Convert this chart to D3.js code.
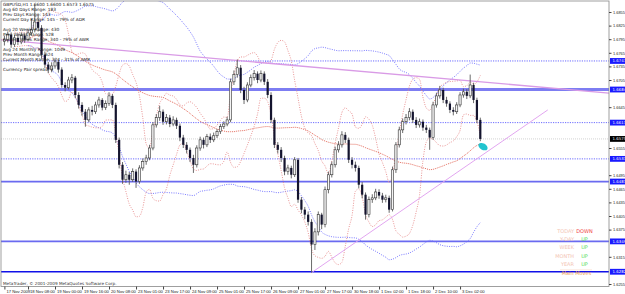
<!DOCTYPE html>
<html>
<head>
<meta charset="utf-8">
<script src="https://cdn.jsdelivr.net/npm/d3@7"></script>
<style>
  body { margin: 0; background: #fff; }
  svg { display: block; font-family: "DejaVu Sans", sans-serif; }
</style>
</head>
<body>
<div id="chart"></div>
<script>

// GBPUSD H1 candles, open = previous close
const firstOpen = 1.6790;
const closes = [
  1.6794, 1.6805, 1.6783, 1.6798, 1.6789, 1.6803, 1.6794, 1.6809, 1.6816, 1.6833,
  1.6820, 1.6761, 1.6739, 1.6728, 1.6736, 1.6745, 1.6728, 1.6694, 1.6688, 1.6705,
  1.6710, 1.6672, 1.6650, 1.6635, 1.6617, 1.6639, 1.6635, 1.6650, 1.6661, 1.6644,
  1.6653, 1.6670, 1.6650, 1.6573, 1.6518, 1.6485, 1.6496, 1.6485, 1.6503, 1.6481,
  1.6511, 1.6525, 1.6533, 1.6555, 1.6606, 1.6622, 1.6635, 1.6613, 1.6622, 1.6608,
  1.6617, 1.6604, 1.6578, 1.6562, 1.6551, 1.6533, 1.6518, 1.6555, 1.6573, 1.6562,
  1.6580, 1.6573, 1.6582, 1.6591, 1.6602, 1.6608, 1.6617, 1.6701, 1.6717, 1.6732,
  1.6683, 1.6661, 1.6694, 1.6710, 1.6719, 1.6705, 1.6719, 1.6701, 1.6672, 1.6617,
  1.6562, 1.6551, 1.6533, 1.6503, 1.6511, 1.6496, 1.6529, 1.6441, 1.6419, 1.6408,
  1.6392, 1.6342, 1.6370, 1.6408, 1.6386, 1.6463, 1.6496, 1.6518, 1.6551, 1.6562,
  1.6584, 1.6573, 1.6529, 1.6518, 1.6511, 1.6474, 1.6452, 1.6408, 1.6441, 1.6445,
  1.6458, 1.6450, 1.6441, 1.6445, 1.6419, 1.6507, 1.6562, 1.6595, 1.6613, 1.6622,
  1.6635, 1.6617, 1.6606, 1.6613, 1.6600, 1.6595, 1.6578, 1.6650, 1.6670, 1.6683,
  1.6661, 1.6653, 1.6639, 1.6635, 1.6650, 1.6672, 1.6679, 1.6670, 1.6694, 1.6661,
  1.6617, 1.6575
];
const highs = [
  1.6803, 1.6812, 1.6810, 1.6804, 1.6806, 1.6810, 1.6808, 1.6817, 1.6840, 1.6871,
  1.6848, 1.6826, 1.6768, 1.6745, 1.6744, 1.6752, 1.6750, 1.6733, 1.6700, 1.6712,
  1.6718, 1.6714, 1.6678, 1.6656, 1.6641, 1.6645, 1.6648, 1.6657, 1.6668, 1.6665,
  1.6660, 1.6678, 1.6674, 1.6655, 1.6578, 1.6524, 1.6505, 1.6502, 1.6510, 1.6508,
  1.6517, 1.6532, 1.6540, 1.6562, 1.6612, 1.6630, 1.6648, 1.6640, 1.6630, 1.6628,
  1.6625, 1.6622, 1.6609, 1.6584, 1.6568, 1.6556, 1.6540, 1.6561, 1.6580, 1.6578,
  1.6586, 1.6587, 1.6589, 1.6597, 1.6608, 1.6614, 1.6624, 1.6708, 1.6726, 1.6750,
  1.6738, 1.6690, 1.6700, 1.6717, 1.6727, 1.6724, 1.6726, 1.6724, 1.6707, 1.6678,
  1.6622, 1.6568, 1.6557, 1.6538, 1.6518, 1.6516, 1.6535, 1.6533, 1.6447, 1.6425,
  1.6415, 1.6398, 1.6378, 1.6415, 1.6412, 1.6470, 1.6503, 1.6525, 1.6558, 1.6570,
  1.6592, 1.6590, 1.6578, 1.6535, 1.6525, 1.6516, 1.6480, 1.6457, 1.6448, 1.6453,
  1.6465, 1.6464, 1.6456, 1.6452, 1.6450, 1.6514, 1.6568, 1.6602, 1.6620, 1.6630,
  1.6643, 1.6640, 1.6623, 1.6620, 1.6618, 1.6606, 1.6600, 1.6657, 1.6677, 1.6692,
  1.6688, 1.6668, 1.6658, 1.6645, 1.6656, 1.6678, 1.6686, 1.6685, 1.6717, 1.6699,
  1.6666, 1.6622
];
const lows = [
  1.6781, 1.6788, 1.6776, 1.6778, 1.6782, 1.6784, 1.6787, 1.6790, 1.6803, 1.6810,
  1.6812, 1.6752, 1.6731, 1.6720, 1.6722, 1.6730, 1.6721, 1.6688, 1.6680, 1.6684,
  1.6698, 1.6665, 1.6642, 1.6626, 1.6602, 1.6612, 1.6627, 1.6630, 1.6644, 1.6638,
  1.6639, 1.6648, 1.6643, 1.6566, 1.6510, 1.6476, 1.6478, 1.6474, 1.6480, 1.6467,
  1.6476, 1.6505, 1.6518, 1.6528, 1.6550, 1.6600, 1.6615, 1.6606, 1.6607, 1.6601,
  1.6603, 1.6597, 1.6570, 1.6555, 1.6543, 1.6524, 1.6500, 1.6512, 1.6549, 1.6554,
  1.6557, 1.6566, 1.6568, 1.6577, 1.6586, 1.6597, 1.6603, 1.6612, 1.6694, 1.6710,
  1.6676, 1.6652, 1.6656, 1.6689, 1.6704, 1.6698, 1.6700, 1.6694, 1.6665, 1.6610,
  1.6555, 1.6543, 1.6524, 1.6495, 1.6496, 1.6488, 1.6491, 1.6434, 1.6411, 1.6398,
  1.6384, 1.6280, 1.6330, 1.6362, 1.6376, 1.6380, 1.6455, 1.6490, 1.6512, 1.6545,
  1.6556, 1.6566, 1.6522, 1.6510, 1.6503, 1.6466, 1.6444, 1.6397, 1.6402, 1.6434,
  1.6440, 1.6443, 1.6434, 1.6435, 1.6412, 1.6415, 1.6500, 1.6556, 1.6588, 1.6607,
  1.6616, 1.6610, 1.6599, 1.6600, 1.6593, 1.6588, 1.6551, 1.6573, 1.6644, 1.6664,
  1.6654, 1.6646, 1.6632, 1.6627, 1.6630, 1.6645, 1.6666, 1.6663, 1.6665, 1.6654,
  1.6610, 1.6570
];

// axis labels
const yTicks = [1.6855, 1.6825, 1.6795, 1.6765, 1.6735, 1.6705, 1.6675, 1.6645, 1.6615,
  1.6585, 1.6555, 1.6525, 1.6495, 1.6465, 1.6435, 1.6405, 1.6375, 1.6345, 1.6315, 1.6285, 1.6255];
const xTickIdx = [0, 7, 15, 23, 31, 39, 47, 55, 63, 71, 79, 87, 95, 103, 111, 119, 127, 135];
const xLabels = ["17 Nov 2009", "18 Nov 08:00", "19 Nov 00:00", "19 Nov 16:00", "20 Nov 08:00",
  "23 Nov 01:00", "23 Nov 17:00", "24 Nov 09:00", "25 Nov 01:00", "25 Nov 17:00", "26 Nov 09:00",
  "27 Nov 01:00", "27 Nov 17:00", "30 Nov 18:00", "1 Dec 02:00", "1 Dec 18:00", "2 Dec 10:00", "3 Dec 02:00"];

// horizontal levels drawn on the chart
const levelPrices = [1.6747, 1.6684, 1.6611, 1.6531, 1.6481, 1.6349, 1.6282];
const levelKinds  = ["dot", "thick", "dot", "dot", "solid", "solid", "base"];
const lastPrice = 1.6575;

// trend lines: bar index and price of two anchors
const trendDownIdx = [0, 141], trendDownPrice = [1.6793, 1.6701];
const trendUpIdx = [91, 161], trendUpPrice = [1.6280, 1.6639];
const markerIdx = 141.8, markerPrice = 1.6558;

const infoLines = [
  "GBPUSD,H1  1.6600 1.6600 1.6573 1.6575",
  "Avg 60 Days Range: 183",
  "Prev Days Range: 143",
  "Current Day Range: 145 - 79% of ADR",
  "",
  "Avg 20 Weeks Range: 430",
  "Prev Weeks Range: 528",
  "Current Week Range: 340 - 79% of AWR",
  "",
  "Avg 24 Monthly Range: 1049",
  "Prev Month Range: 624",
  "Current Month Range: 324 - 31% of AMR",
  "",
  "Currency Pair spread: 3"
];
const moveNames = ["TODAY", "Y-DAY", "WEEK", "MONTH", "YEAR"];
const moveDirs  = ["DOWN", "UP", "UP", "UP", "UP"];

// ---------------------------------------------------------------

const width = 625, height = 294;
const plot = { left: 1, top: 1, right: 609, bottom: 286.5 };

const svg = d3.select("#chart").append("svg")
  .attr("width", width)
  .attr("height", height);

svg.append("rect").attr("width", width).attr("height", height).attr("fill", "#fff");

svg.append("clipPath").attr("id", "clip")
  .append("rect")
  .attr("x", plot.left).attr("y", plot.top)
  .attr("width", plot.right - plot.left).attr("height", plot.bottom - plot.top);

const x = d3.scaleLinear().domain([0, 141]).range([4.4, 480.3]);
const y = d3.scaleLinear().domain([1.6855, 1.6255]).range([12, 284]);

const g = svg.append("g").attr("clip-path", "url(#clip)");

// level lines
const levelStyle = {
  dot:   { color: "#5b5bff", w: 0.9, dash: "1.2,1.2" },
  thick: { color: "#7d7df2", w: 3,   dash: null },
  solid: { color: "#6a6af0", w: 1.8, dash: null },
  base:  { color: "#1010e8", w: 1.4, dash: null }
};
levelPrices.forEach((p, i) => {
  const s = levelStyle[levelKinds[i]];
  g.append("line")
    .attr("x1", plot.left).attr("x2", plot.right)
    .attr("y1", y(p)).attr("y2", y(p))
    .attr("stroke", s.color).attr("stroke-width", s.w)
    .attr("stroke-dasharray", s.dash);
});
g.append("line")
  .attr("x1", plot.left).attr("x2", plot.right)
  .attr("y1", y(lastPrice)).attr("y2", y(lastPrice))
  .attr("stroke", "#c8c8c8").attr("stroke-width", 0.8)
  .attr("stroke-dasharray", "1,1");

// bollinger style bands computed from the closes
function bands(period, k, minLen) {
  const out = [];
  closes.forEach((c, i) => {
    const win = closes.slice(Math.max(0, i - period + 1), i + 1);
    if (win.length < minLen) return;
    const m = d3.mean(win);
    const sd = Math.sqrt(d3.mean(win, v => (v - m) * (v - m)));
    out.push({ i: i, mid: m, up: m + k * sd, lo: m - k * sd });
  });
  return out;
}
const fast = bands(10, 2, 4);
const slow = bands(48, 2, 8);

function drawLine(data, key, color, dash, w) {
  g.append("path")
    .datum(data)
    .attr("fill", "none")
    .attr("stroke", color)
    .attr("stroke-width", w)
    .attr("stroke-dasharray", dash)
    .attr("d", d3.line().curve(d3.curveMonotoneX).x(d => x(d.i)).y(d => y(d[key])));
}
drawLine(slow, "up", "#6b6bff", "1,1.3", 0.9);
drawLine(slow, "lo", "#6b6bff", "1,1.3", 0.9);
drawLine(slow, "mid", "#e05a4a", "1,1", 0.9);
drawLine(fast, "up", "#e68a8a", "1,1.4", 0.9);
drawLine(fast, "lo", "#e68a8a", "1,1.4", 0.9);

// trend lines
const dSlope = (trendDownPrice[1] - trendDownPrice[0]) / (trendDownIdx[1] - trendDownIdx[0]);
const iL = x.invert(plot.left), iR = x.invert(plot.right);
g.append("line")
  .attr("x1", x(iL)).attr("y1", y(trendDownPrice[0] + dSlope * (iL - trendDownIdx[0])))
  .attr("x2", x(iR)).attr("y2", y(trendDownPrice[0] + dSlope * (iR - trendDownIdx[0])))
  .attr("stroke", "#d99be6").attr("stroke-width", 1.3);
g.append("line")
  .attr("x1", x(trendUpIdx[0])).attr("y1", y(trendUpPrice[0]))
  .attr("x2", x(trendUpIdx[1])).attr("y2", y(trendUpPrice[1]))
  .attr("stroke", "#e2a6f0").attr("stroke-width", 1);

// candles
const candles = closes.map((c, i) => ({
  i: i, o: i === 0 ? firstOpen : closes[i - 1], h: highs[i], l: lows[i], c: c
}));
g.selectAll(".wick").data(candles).enter().append("line")
  .attr("class", "wick")
  .attr("x1", d => x(d.i)).attr("x2", d => x(d.i))
  .attr("y1", d => y(d.h)).attr("y2", d => y(d.l))
  .attr("stroke", "#5a5a5a").attr("stroke-width", 0.9);
g.selectAll(".body").data(candles).enter().append("rect")
  .attr("class", "body")
  .attr("x", d => x(d.i) - 1.1)
  .attr("width", 2.2)
  .attr("y", d => y(Math.max(d.o, d.c)))
  .attr("height", d => Math.max(0.8, Math.abs(y(d.o) - y(d.c))))
  .attr("fill", d => d.c >= d.o ? "#f4f4f4" : "#14142e")
  .attr("stroke", d => d.c >= d.o ? "#333" : "none")
  .attr("stroke-width", 0.6);

// marker ellipse
g.append("ellipse")
  .attr("transform", `translate(${x(markerIdx)},${y(markerPrice)}) rotate(30)`)
  .attr("rx", 5).attr("ry", 3.2)
  .attr("fill", "#22c4cf");

// info text top left
svg.append("g").selectAll("text").data(infoLines).enter().append("text")
  .attr("x", 3).attr("y", (d, i) => 5.5 + i * 5)
  .attr("font-size", "4.3px").attr("fill", "#222")
  .text(d => d);

// direction table
const tbl = svg.append("g").attr("font-size", "5px");
moveNames.forEach((n, i) => {
  const yy = 233 + i * 8.2;
  tbl.append("text").attr("x", 574).attr("y", yy).attr("text-anchor", "end")
    .attr("fill", "#f3c4b4").text(n);
  tbl.append("text").attr("x", 584.5).attr("y", yy).attr("text-anchor", "middle")
    .attr("fill", moveDirs[i] === "DOWN" ? "#f04040" : "#55dd55").text(moveDirs[i]);
});
tbl.append("line").attr("x1", 560).attr("x2", 592).attr("y1", 269.8).attr("y2", 269.8)
  .attr("stroke", "#f6d8c8").attr("stroke-width", 0.6);
tbl.append("text").attr("x", 576.5).attr("y", 275).attr("text-anchor", "middle")
  .attr("fill", "#f0a04a").text("Main Moves");

svg.append("text").attr("x", 3).attr("y", 284.8)
  .attr("font-size", "4.2px").attr("fill", "#333")
  .text("MetaTrader, \u00a9 2001-2009 MetaQuotes Software Corp.");

// frame
svg.append("rect")
  .attr("x", plot.left).attr("y", plot.top)
  .attr("width", plot.right - plot.left).attr("height", plot.bottom - plot.top)
  .attr("fill", "none").attr("stroke", "#888").attr("stroke-width", 0.8);

// price tags on the axis (level lines plus the last price)
const tags = levelPrices.map(p => ({ p: p, bg: "#1a1aff" }))
  .concat([{ p: lastPrice, bg: "#000" }]);

// price axis; tick labels hidden under a tag are left out
const shownTicks = yTicks.filter(t => tags.every(tg => Math.abs(y(t) - y(tg.p)) > 5.2));
const yAxis = svg.append("g")
  .attr("transform", `translate(${plot.right},0)`)
  .call(d3.axisRight(y).tickValues(shownTicks).tickSize(2.5).tickPadding(1.5)
    .tickFormat(d3.format(".4f")));
yAxis.select(".domain").remove();
yAxis.selectAll("text").attr("font-size", "3.9px").attr("fill", "#222");
yAxis.selectAll("line").attr("stroke", "#444");

// time axis
const xAxis = svg.append("g")
  .attr("transform", `translate(0,${plot.bottom})`)
  .call(d3.axisBottom(x).tickValues(xTickIdx).tickSize(3).tickPadding(0.6)
    .tickFormat((d, i) => xLabels[i]));
xAxis.select(".domain").remove();
xAxis.selectAll("text").attr("font-size", "4.2px").attr("fill", "#222")
  .attr("text-anchor", "start").attr("dx", "1.5");
xAxis.selectAll("line").attr("stroke", "#444");

const tagG = svg.append("g").selectAll("g").data(tags).enter().append("g")
  .attr("transform", d => `translate(${plot.right + 1},${y(d.p)})`);
tagG.append("rect").attr("x", 0).attr("y", -2.9).attr("width", 15).attr("height", 5.8)
  .attr("fill", d => d.bg);
tagG.append("text").attr("x", 2.5).attr("y", 1.4).attr("font-size", "3.9px")
  .attr("fill", "#fff").text(d => d3.format(".4f")(d.p));

</script>
</body>
</html>
